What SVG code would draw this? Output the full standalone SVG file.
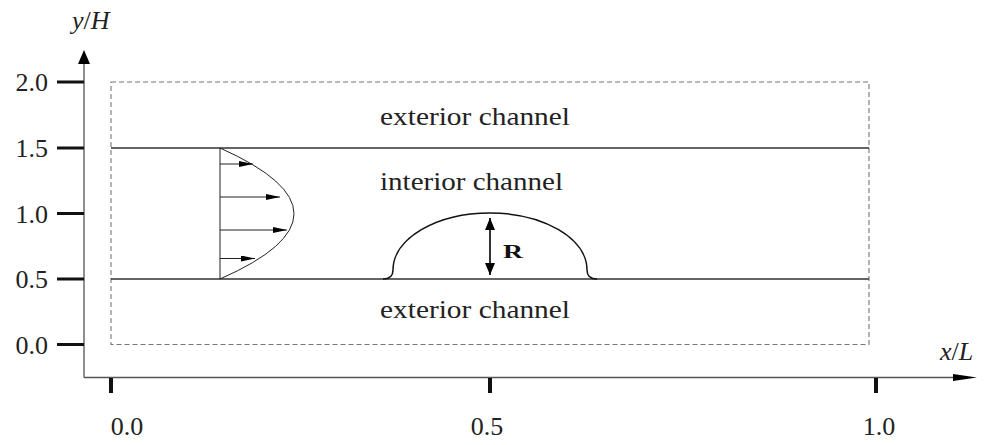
<svg xmlns="http://www.w3.org/2000/svg" width="992" height="445" viewBox="0 0 992 445">
<style>
.lbl{font-family:"Liberation Serif","Times New Roman",serif;font-size:26px;fill:#222}
.it{font-style:italic}
.axis{stroke:#555;stroke-width:1.3;fill:none}
.tick{stroke:#111;stroke-width:3.2}
.wall{stroke:#333;stroke-width:1.3;fill:none}
.dash{stroke:#777;stroke-width:1.1;stroke-dasharray:5 3;fill:none}
.thin{stroke:#222;stroke-width:1;fill:none}
</style>
<defs>
<marker id="vel" viewBox="0 0 14 6" refX="14" refY="3" markerWidth="14" markerHeight="6" markerUnits="userSpaceOnUse" orient="auto">
<path d="M0,0 L14,3 L0,6 Z" fill="#000"/>
</marker>
<marker id="rh" viewBox="0 0 12 10" refX="12" refY="5" markerWidth="12" markerHeight="10" markerUnits="userSpaceOnUse" orient="auto-start-reverse">
<path d="M0,0 L12,5 L0,10 Z" fill="#000"/>
</marker>
</defs>
<rect width="992" height="445" fill="#fff"/>
<g id="axes">
<path class="axis" d="M84,377.5 V62 M84,377.5 H956"/>
<polygon points="84,50 78,64 90,64" fill="#000"/>
<polygon points="977,377.5 953,374 953,381" fill="#000"/>
<path class="tick" d="M57,82 H84 M57,148 H84 M57,213.5 H84 M57,279 H84 M57,344.5 H84"/>
<path class="tick" style="stroke-width:4" d="M111,378 V393 M490,378 V393 M876,378 V393"/>
<text class="lbl" x="48" y="91" text-anchor="end">2.0</text>
<text class="lbl" x="48" y="157" text-anchor="end">1.5</text>
<text class="lbl" x="48" y="222.5" text-anchor="end">1.0</text>
<text class="lbl" x="48" y="288" text-anchor="end">0.5</text>
<text class="lbl" x="48" y="353.5" text-anchor="end">0.0</text>
<text class="lbl" x="127" y="435" text-anchor="middle">0.0</text>
<text class="lbl" x="487" y="435" text-anchor="middle">0.5</text>
<text class="lbl" x="879" y="435" text-anchor="middle">1.0</text>
<text class="lbl" x="72" y="29"><tspan class="it">y</tspan>/<tspan class="it">H</tspan></text>
<text class="lbl" x="940" y="360"><tspan class="it">x</tspan>/<tspan class="it">L</tspan></text>
</g>
<g id="domain">
<rect class="dash" x="111" y="82" width="758" height="262.5"/>
<path class="wall" d="M111,148 H869 M111,279 H869"/>
</g>
<g id="labels">
<text class="lbl" x="380" y="125" textLength="190" lengthAdjust="spacingAndGlyphs">exterior channel</text>
<text class="lbl" x="380" y="190" textLength="183" lengthAdjust="spacingAndGlyphs">interior channel</text>
<text class="lbl" x="380" y="318" textLength="190" lengthAdjust="spacingAndGlyphs">exterior channel</text>
</g>
<g id="profile">
<path class="thin" d="M220,148 V279"/>
<path class="thin" d="M220,148 Q368,214 220,279"/>
<g class="connectors">
<path class="thin" marker-end="url(#vel)" d="M220,164 H253"/>
<path class="thin" marker-end="url(#vel)" d="M220,197 H280"/>
<path class="thin" marker-end="url(#vel)" d="M220,230 H287"/>
<path class="thin" marker-end="url(#vel)" d="M220,258.5 H255"/>
</g>
</g>
<g id="bump">
<path stroke="#111" stroke-width="1.5" fill="none" d="M383,279 C390,279 393,276 393,270 C393,238.5 436.4,213 490,213 C543.6,213 587,238.5 587,270 C587,276 590,279 597,279"/>
<path stroke="#000" stroke-width="1.6" fill="none" marker-start="url(#rh)" marker-end="url(#rh)" d="M490,218 V275"/>
<text x="503" y="258" font-family="Liberation Serif, serif" font-weight="bold" font-size="19" fill="#111" textLength="20" lengthAdjust="spacingAndGlyphs">R</text>
</g>
</svg>
